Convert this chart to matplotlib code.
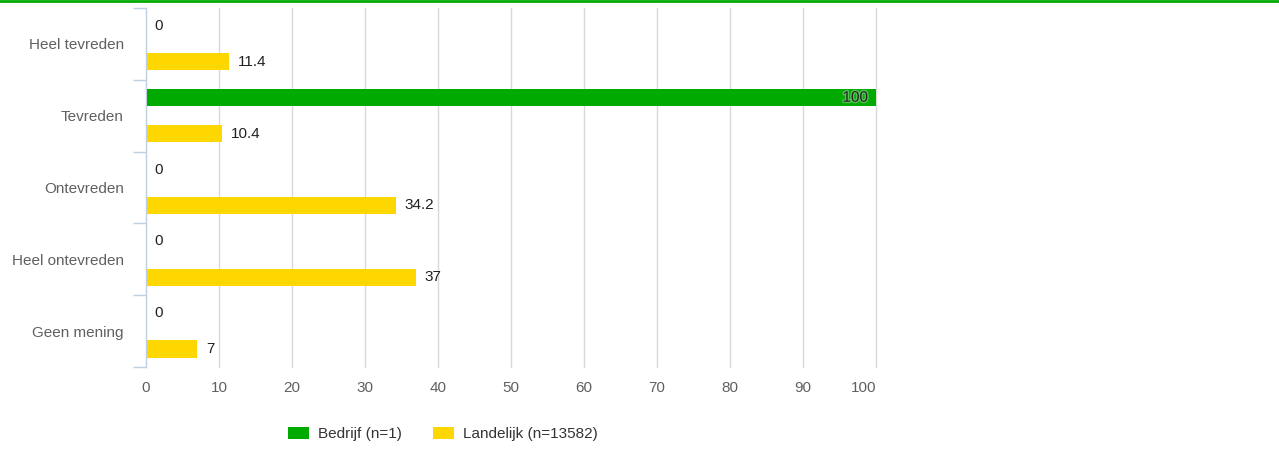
import matplotlib.pyplot as plt
import matplotlib.patheffects as pe
from matplotlib.lines import Line2D
import numpy as np

plt.rcParams['font.family'] = ['Liberation Sans', 'DejaVu Sans']

categories = ['Heel tevreden', 'Tevreden', 'Ontevreden', 'Heel ontevreden', 'Geen mening']
bedrijf = [0, 100, 0, 0, 0]
landelijk = [11.4, 10.4, 34.2, 37, 7]
series_names = ['Bedrijf (n=1)', 'Landelijk (n=13582)']

green = '#00aa00'
yellow = '#ffd700'
grey_txt = '#606060'
fs = 11

fig = plt.figure(figsize=(12.79, 4.59), dpi=100)
ax = fig.add_axes([146/1279, 1-367/459, 730/1279, 359/459])

y = np.arange(len(categories))
h = 0.24
off = 0.25
b1 = ax.barh(y - off, bedrijf, height=h, color=green, label=series_names[0], zorder=3)
b2 = ax.barh(y + off, landelijk, height=h, color=yellow, label=series_names[1], zorder=3)

def fmt(v):
    return '%g' % v

for yi, v in zip(y - off, bedrijf):
    if v >= 90:
        ax.text(v - 1.1, yi, fmt(v), ha='right', va='center', fontsize=fs, color='#222222', zorder=4,
                path_effects=[pe.withStroke(linewidth=2, foreground='#55c055')])
    else:
        ax.text(v + 1.2, yi, fmt(v), ha='left', va='center', fontsize=fs, color='#222222', zorder=4)
for yi, v in zip(y + off, landelijk):
    ax.text(v + 1.2, yi, fmt(v), ha='left', va='center', fontsize=fs, color='#222222', zorder=4)

ax.set_xlim(0, 100)
ax.set_ylim(len(categories) - 0.5, -0.5)
ax.set_xticks(np.arange(0, 101, 10))
ax.set_yticks(y)
ax.set_yticklabels(categories)
ax.set_yticks(np.arange(-0.5, len(categories), 1), minor=True)
ax.tick_params(axis='y', which='major', length=0, pad=16, labelsize=fs, labelcolor=grey_txt)
ax.tick_params(axis='y', which='minor', length=9.4, width=1, color='#c0d0e0')
ax.tick_params(axis='x', length=0, pad=10, labelsize=fs, labelcolor=grey_txt)
ax.get_xticklabels()[-1].set_horizontalalignment('right')
ax.grid(axis='x', color='#d8d8d8', linewidth=1, zorder=0)
for gl in ax.get_xgridlines():
    gl.set_clip_on(False)
for s in ['top', 'right', 'bottom']:
    ax.spines[s].set_visible(False)
ax.spines['left'].set_color('#c0d0e0')
ax.spines['left'].set_zorder(5)

fig.legend(handles=[b1, b2], labels=series_names, loc='center', bbox_to_anchor=(443/1279, 1-434/459),
           ncol=2, frameon=False, fontsize=fs, labelcolor='#333333', handlelength=1.4,
           handleheight=0.9, handletextpad=0.6, columnspacing=2.0)

fig.add_artist(Line2D([0, 1], [1-1/459, 1-1/459], transform=fig.transFigure, color=green, linewidth=2))

fig.savefig('out.png', dpi=100)
